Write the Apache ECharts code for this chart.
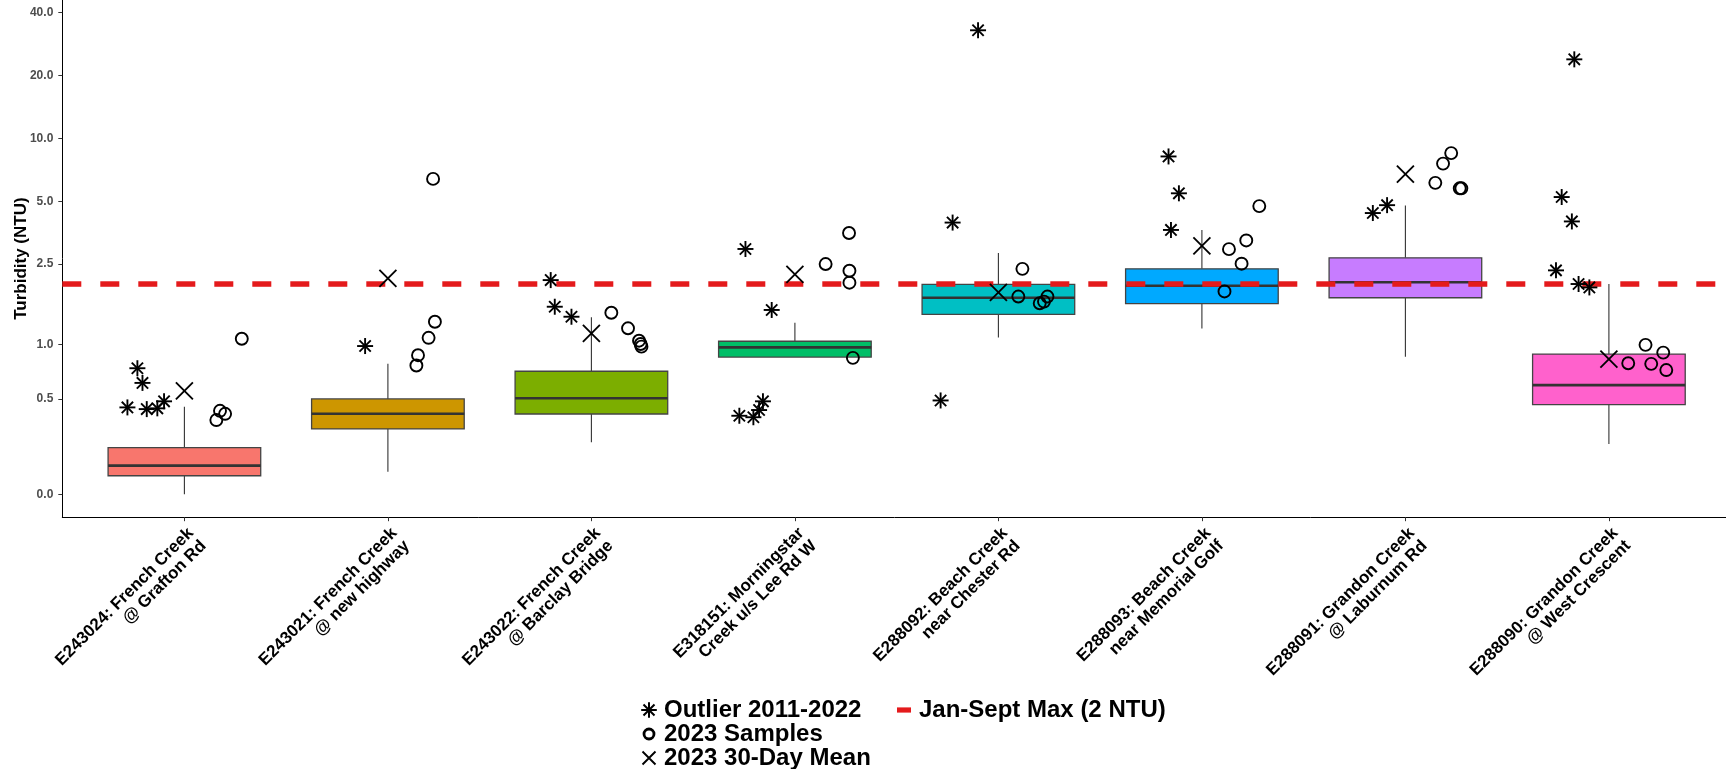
<!DOCTYPE html>
<html>
<head>
<meta charset="utf-8">
<script src="https://cdn.jsdelivr.net/npm/echarts@6/dist/echarts.min.js"></script>
<style>
  html, body { margin: 0; padding: 0; background: #fff; }
  #chart { width: 1726px; height: 769px; }
</style>
</head>
<body>
<div id="chart"></div>
<script>
// ---------------- DATA ----------------
const categories = [
  'E243024: French Creek\n@ Grafton Rd',
  'E243021: French Creek\n@ new highway',
  'E243022: French Creek\n@ Barclay Bridge',
  'E318151: Morningstar\nCreek u/s Lee Rd W',
  'E288092: Beach Creek\nnear Chester Rd',
  'E288093: Beach Creek\nnear Memorial Golf',
  'E288091: Grandon Creek\n@ Laburnum Rd',
  'E288090: Grandon Creek\n@ West Crescent'
];

// Box statistics 2011-2022 (NTU)
const boxLow  = [0.0,   0.100, 0.241, 0.860, 1.087, 1.205, 0.863, 0.233];
const boxQ1   = [0.082, 0.313, 0.401, 0.860, 1.420, 1.605, 1.714, 0.462];
const boxMed  = [0.128, 0.402, 0.506, 0.967, 1.714, 1.962, 2.040, 0.604];
const boxQ3   = [0.214, 0.501, 0.722, 1.039, 1.993, 2.370, 2.680, 0.892];
const boxHigh = [0.447, 0.792, 1.372, 1.289, 2.830, 3.650, 4.780, 2.000];

// Outliers 2011-2022 (values, NTU) and their horizontal jitter (category units)
const outlierValues = [
  [0.750, 0.622, 0.443, 0.432, 0.437, 0.484],
  [0.982],
  [2.09, 1.548, 1.381],
  [2.956, 1.492, 0.390, 0.381, 0.426, 0.484],
  [32.9, 3.96, 0.490],
  [8.21, 5.47, 3.65],
  [4.40, 4.80],
  [23.9, 5.25, 4.01, 2.33, 2.00, 1.925]
];
const outlierJitter = [
  [-0.231, -0.206, -0.280, -0.185, -0.133, -0.100],
  [-0.112],
  [-0.200, -0.180, -0.098],
  [-0.243, -0.114, -0.273, -0.204, -0.176, -0.157],
  [-0.100, -0.225, -0.284],
  [-0.164, -0.113, -0.152],
  [-0.160, -0.090],
  [-0.170, -0.232, -0.182, -0.260, -0.149, -0.096]
];

// 2023 samples (NTU) and their horizontal jitter
const sampleValues = [
  [1.070, 0.364, 0.421, 0.402],
  [0.776, 0.880, 1.082, 1.304, 6.41],
  [1.446, 1.209, 1.046, 1.006, 0.975],
  [3.53, 2.50, 2.32, 2.03, 0.852],
  [2.37, 1.737, 1.737, 1.61, 1.641],
  [4.75, 3.25, 2.95, 2.51, 1.84],
  [8.52, 7.59, 6.14, 5.78, 5.78],
  [0.996, 0.908, 0.798, 0.792, 0.733]
];
const sampleJitter = [
  [0.282, 0.157, 0.175, 0.200],
  [0.140, 0.148, 0.200, 0.231, 0.222],
  [0.098, 0.180, 0.234, 0.242, 0.246],
  [0.266, 0.151, 0.268, 0.268, 0.285],
  [0.118, 0.098, 0.241, 0.203, 0.224],
  [0.282, 0.218, 0.133, 0.195, 0.111],
  [0.225, 0.185, 0.147, 0.267, 0.275],
  [0.180, 0.267, 0.095, 0.208, 0.282]
];

// 2023 30-day mean (NTU)
const meanValues = [0.560, 2.13, 1.139, 2.229, 1.819, 3.06, 6.76, 0.839];

// Guideline
const guidelineValue = 2;

// Y tick labels (NTU)
const yTicks = [0, 0.5, 1, 2.5, 5, 10, 20, 40];

// ---------------- STYLE ----------------
const boxColors = ['#F8766D', '#CD9600', '#7CAE00', '#00BE67', '#00BFC4', '#00A9FF', '#C77CFF', '#FF61CC'];
const RED = '#E41A1C';
const FONT = "'Liberation Sans', Arial, Helvetica, sans-serif";

// pseudo-log transform (sigma = 0.2)
const T = v => Math.asinh(v / 0.4);
const Tinv = t => 0.4 * Math.sinh(t);

// ---------------- BUILD SERIES DATA ----------------
const boxData = categories.map((c, i) => [i, T(boxLow[i]), T(boxQ1[i]), T(boxMed[i]), T(boxQ3[i]), T(boxHigh[i])]);
const outlierData = [];
outlierValues.forEach((arr, i) => arr.forEach((v, k) => outlierData.push([i + outlierJitter[i][k], T(v)])));
const sampleData = [];
sampleValues.forEach((arr, i) => arr.forEach((v, k) => sampleData.push([i + sampleJitter[i][k], T(v)])));
const meanData = meanValues.map((v, i) => [i, T(v)]);
const xMin = -0.6, xMax = categories.length - 1 + 0.6;
const guideData = [[xMin, T(guidelineValue)], [xMax, T(guidelineValue)]];

// legend icon paths
function bar(x1, y1, x2, y2, w) {
  const dx = x2 - x1, dy = y2 - y1, L = Math.hypot(dx, dy);
  const nx = -dy / L * w / 2, ny = dx / L * w / 2;
  return `M${x1 + nx},${y1 + ny}L${x2 + nx},${y2 + ny}L${x2 - nx},${y2 - ny}L${x1 - nx},${y1 - ny}Z`;
}
const pad = 'M-8,-8M8,8';
const d7 = 7.8 * Math.SQRT1_2;
const asteriskIcon = 'path://' + pad + bar(-7.8, 0, 7.8, 0, 2) + bar(0, -7.8, 0, 7.8, 2) + bar(-d7, -d7, d7, d7, 2) + bar(-d7, d7, d7, -d7, 2);
const xIcon = 'path://' + pad + bar(-6.5, -6.5, 6.5, 6.5, 1.9) + bar(-6.5, 6.5, 6.5, -6.5, 1.9);
const ringIcon = 'path://' + pad + 'M6.4,0A6.4,6.4 0 1 1 -6.4,0A6.4,6.4 0 1 1 6.4,0Z' + 'M3.6,0A3.6,3.6 0 1 0 -3.6,0A3.6,3.6 0 1 0 3.6,0Z';
const redIcon = 'path://' + pad + 'M-7,-2.6H7V2.6H-7Z';

const chart = echarts.init(document.getElementById('chart'), null, { renderer: 'canvas' });

const option = {
  backgroundColor: '#fff',
  animation: false,
  grid: { left: 62.3, top: 0, width: 1668.7, height: 517.2, containLabel: false, outerBoundsMode: 'none' },
  xAxis: {
    type: 'value', min: xMin, max: xMax,
    splitLine: { show: false },
    axisLine: { onZero: false, lineStyle: { color: '#000', width: 1 } },
    axisTick: { show: true, length: 4, customValues: categories.map((c, i) => i), lineStyle: { color: '#333', width: 1 } },
    axisLabel: {
      customValues: categories.map((c, i) => i),
      formatter: v => categories[Math.round(v)],
      rotate: 45, margin: 7, verticalAlign: 'top',
      fontFamily: FONT, fontWeight: 'bold', fontSize: 17, lineHeight: 18, color: '#000'
    }
  },
  yAxis: {
    type: 'value', min: -0.252, max: 5.436,
    name: 'Turbidity (NTU)', nameLocation: 'middle', nameGap: 32, nameMoveOverlap: false,
    nameTextStyle: { fontFamily: FONT, fontWeight: 'bold', fontSize: 17, color: '#000' },
    splitLine: { show: false },
    axisLine: { onZero: false, lineStyle: { color: '#000', width: 1 } },
    axisTick: { show: true, length: 4, customValues: yTicks.map(T), lineStyle: { color: '#333', width: 1 } },
    axisLabel: {
      customValues: yTicks.map(T),
      formatter: v => Tinv(v).toFixed(1),
      margin: 9, fontFamily: FONT, fontWeight: 'bold', fontSize: 12, color: '#4D4D4D'
    }
  },
  legend: {
    orient: 'vertical', left: 636, top: 693, height: 74,
    itemWidth: 20, itemHeight: 16, itemGap: 0, selectedMode: false,
    textStyle: { fontFamily: FONT, fontWeight: 'bold', fontSize: 24, lineHeight: 24, color: '#000', width: 232 },
    data: [
      { name: 'Outlier 2011-2022', icon: asteriskIcon, itemStyle: { color: '#000', borderWidth: 0 } },
      { name: '2023 Samples', icon: ringIcon, itemStyle: { color: '#000', borderWidth: 0 } },
      { name: '2023 30-Day Mean', icon: xIcon, itemStyle: { color: '#000', borderWidth: 0 } },
      { name: 'Jan-Sept Max (2 NTU)', icon: redIcon, itemStyle: { color: RED, borderWidth: 0 } }
    ]
  },
  series: [
    {
      name: 'Boxes 2011-2022', type: 'custom', z: 2, data: boxData,
      encode: { x: 0, y: [1, 2, 3, 4, 5] },
      renderItem: (params, api) => {
        const i = api.value(0);
        const lo = api.coord([i, api.value(1)]);
        const q1 = api.coord([i, api.value(2)]);
        const md = api.coord([i, api.value(3)]);
        const q3 = api.coord([i, api.value(4)]);
        const hi = api.coord([i, api.value(5)]);
        const w = api.size([0.75, 0])[0];
        const x = q1[0];
        return {
          type: 'group', children: [
            { type: 'line', shape: { x1: x, y1: hi[1], x2: x, y2: q3[1] }, style: { stroke: '#333', lineWidth: 1.1 } },
            { type: 'line', shape: { x1: x, y1: q1[1], x2: x, y2: lo[1] }, style: { stroke: '#333', lineWidth: 1.1 } },
            { type: 'rect', shape: { x: x - w / 2, y: q3[1], width: w, height: q1[1] - q3[1] },
              style: { fill: boxColors[params.dataIndex], stroke: '#444', lineWidth: 1.3 } },
            { type: 'line', shape: { x1: x - w / 2, y1: md[1], x2: x + w / 2, y2: md[1] }, style: { stroke: '#333', lineWidth: 2.6 } }
          ]
        };
      }
    },
    {
      name: 'Jan-Sept Max (2 NTU)', type: 'line', z: 3, data: guideData,
      showSymbol: false, symbol: 'none', silent: true, color: RED,
      lineStyle: { color: RED, width: 5.5, type: [19, 19] }
    },
    {
      name: 'Outlier 2011-2022', type: 'custom', z: 4, data: outlierData, color: '#000',
      encode: { x: 0, y: 1 },
      renderItem: (params, api) => {
        const p = api.coord([api.value(0), api.value(1)]);
        const r = 8, d = r * Math.SQRT1_2;
        const st = { stroke: '#000', lineWidth: 1.9 };
        return {
          type: 'group', children: [
            { type: 'line', shape: { x1: p[0] - r, y1: p[1], x2: p[0] + r, y2: p[1] }, style: st },
            { type: 'line', shape: { x1: p[0], y1: p[1] - r, x2: p[0], y2: p[1] + r }, style: st },
            { type: 'line', shape: { x1: p[0] - d, y1: p[1] - d, x2: p[0] + d, y2: p[1] + d }, style: st },
            { type: 'line', shape: { x1: p[0] - d, y1: p[1] + d, x2: p[0] + d, y2: p[1] - d }, style: st }
          ]
        };
      }
    },
    {
      name: '2023 Samples', type: 'scatter', z: 5, data: sampleData,
      symbol: 'circle', symbolSize: 12, color: '#000',
      itemStyle: { color: 'rgba(0,0,0,0)', borderColor: '#000', borderWidth: 1.9, opacity: 1 }
    },
    {
      name: '2023 30-Day Mean', type: 'custom', z: 6, data: meanData, color: '#000',
      encode: { x: 0, y: 1 },
      renderItem: (params, api) => {
        const p = api.coord([api.value(0), api.value(1)]);
        const r = 8.5;
        const st = { stroke: '#000', lineWidth: 1.8 };
        return {
          type: 'group', children: [
            { type: 'line', shape: { x1: p[0] - r, y1: p[1] - r, x2: p[0] + r, y2: p[1] + r }, style: st },
            { type: 'line', shape: { x1: p[0] - r, y1: p[1] + r, x2: p[0] + r, y2: p[1] - r }, style: st }
          ]
        };
      }
    }
  ]
};
chart.setOption(option);
</script>
</body>
</html>
